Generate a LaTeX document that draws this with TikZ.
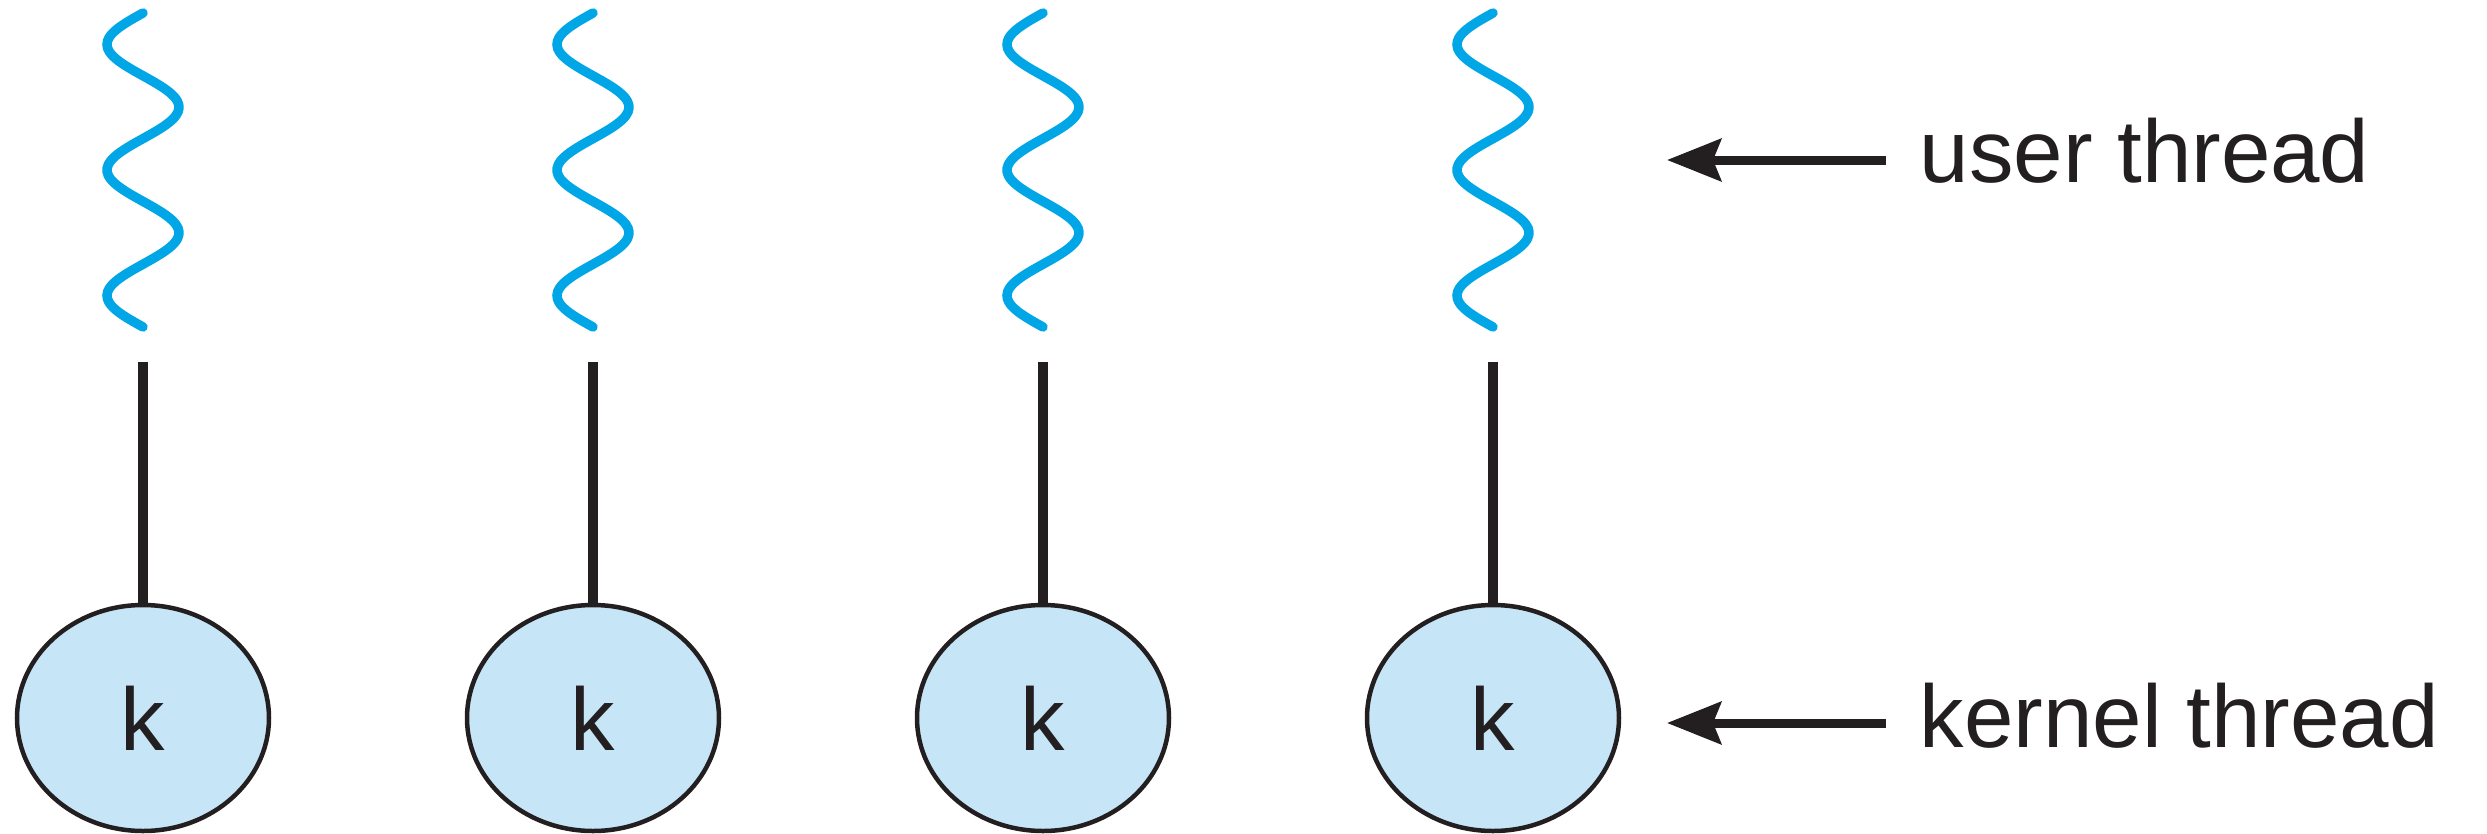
\documentclass[tikz,border=0pt]{standalone}
\usepackage{fontspec}
\setmainfont{Liberation Sans}
\usetikzlibrary{shapes.geometric,arrows.meta}
\definecolor{filblau}{RGB}{0,166,230}
\definecolor{kfons}{RGB}{198,230,247}
\definecolor{tinta}{RGB}{35,31,32}

\begin{document}
\begin{tikzpicture}[
        kern/.style={ellipse, draw=tinta, line width=0.045cm, fill=kfons,
            minimum width=2.52cm, minimum height=2.26cm, inner sep=0pt,
            text=tinta, font=\fontsize{25.3}{30}\selectfont},
        etiq/.style={anchor=base west, inner sep=0pt, text=tinta,
            font=\fontsize{25.3}{30}\selectfont},
        fletxa/.style={tinta, line width=0.09cm,
            -{Stealth[length=0.54cm,width=0.42cm,inset=0.08cm]}}]
        \useasboundingbox (0,0) rectangle (24.87,8.33);
        % Columnes: fil d'usuari (ona) -> linia -> fil del nucli (k)
        \foreach \i/\cx in {1/1.43,2/5.93,3/10.43,4/14.93} {
            \draw[filblau, line width=0.095cm, line cap=round]
                plot[domain=0:3.14, samples=90, smooth]
                ({\cx-0.36*sin(\x*360/1.256)},{8.20-\x});
            \coordinate (u\i) at (\cx,4.71);
            \node[kern] (k\i) at (\cx,1.15) {k};
            \draw[tinta, line width=0.10cm] (u\i) -- (k\i);
        }
        % Etiquetes de la dreta
        \node[etiq] (usr) at (19.19,6.51) {user thread};
        \node[etiq] (krn) at (19.19,0.86) {kernel thread};
        \coordinate (usrtip) at (16.67,6.73);
        \coordinate (krntip) at (16.67,1.10);
        \draw[fletxa] ([xshift=-0.33cm]usr.west |- usrtip) -- (usrtip);
        \draw[fletxa] ([xshift=-0.33cm]krn.west |- krntip) -- (krntip);
    \end{tikzpicture}
\end{document}
